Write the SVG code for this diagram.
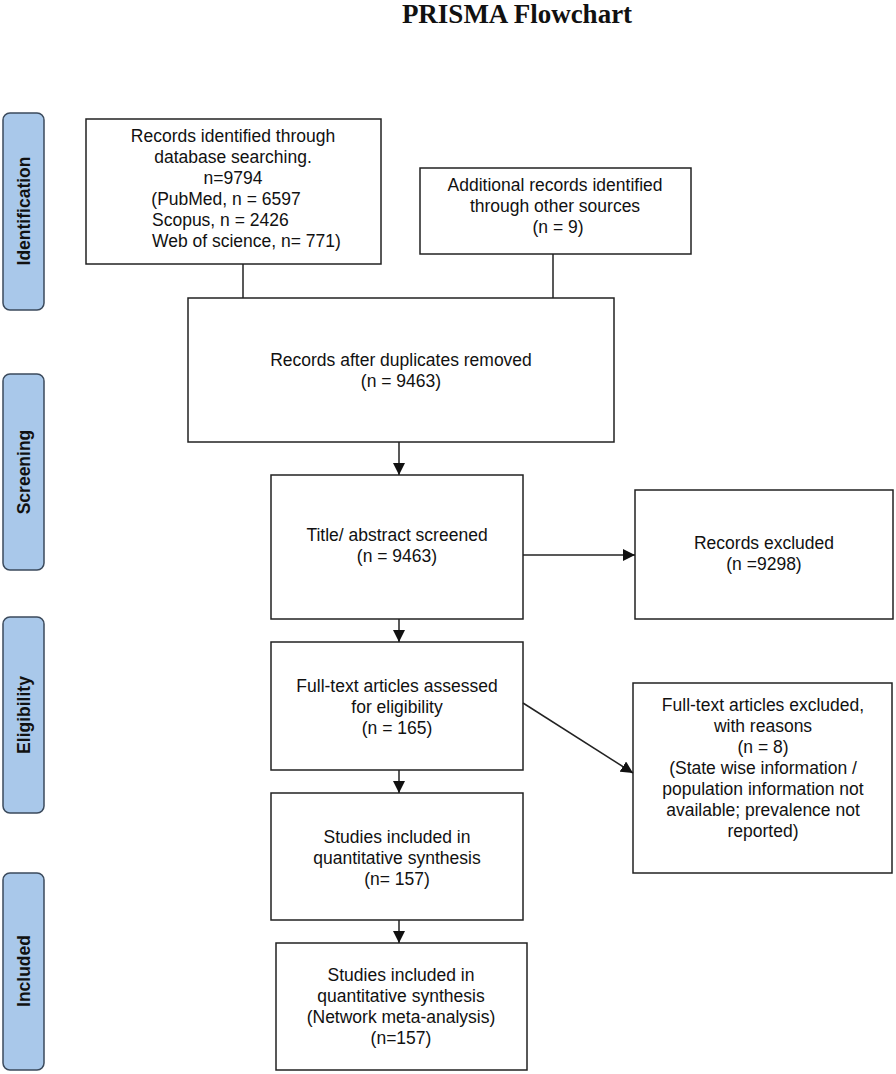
<svg xmlns="http://www.w3.org/2000/svg" width="896" height="1074" viewBox="0 0 896 1074">
<defs>
<style>
.b{fill:#fff;stroke:#222;stroke-width:1.5}
.s{fill:#a9c8ea;stroke:#3b4a5c;stroke-width:1.5}
.t{font-family:"Liberation Sans",Arial,sans-serif;font-size:17.5px;fill:#111;text-anchor:middle}
.l{font-family:"Liberation Sans",Arial,sans-serif;font-size:17.5px;fill:#111}
.st{font-family:"Liberation Sans",Arial,sans-serif;font-size:17.5px;font-weight:bold;fill:#111;text-anchor:middle}
.c{stroke:#222;stroke-width:1.5;fill:none}
</style>
<marker id="a" viewBox="0 0 10 10" refX="10" refY="5" markerWidth="8" markerHeight="8" orient="auto"><path d="M0,0 L10,5 L0,10 z" fill="#111"/></marker>
</defs>
<rect width="896" height="1074" fill="#fff"/>
<text x="517" y="23" font-family="Liberation Serif,serif" font-size="27" font-weight="bold" text-anchor="middle" fill="#111">PRISMA Flowchart</text>
<g id="side-identification"><rect class="s" x="3" y="113" width="41" height="197" rx="7"/><text class="st" transform="translate(30,211) rotate(-90)">Identification</text></g>
<g id="side-screening"><rect class="s" x="3" y="374" width="41" height="196" rx="7"/><text class="st" transform="translate(30,472) rotate(-90)">Screening</text></g>
<g id="side-eligibility"><rect class="s" x="3" y="617" width="41" height="196" rx="7"/><text class="st" transform="translate(30,715) rotate(-90)">Eligibility</text></g>
<g id="side-included"><rect class="s" x="3" y="873" width="41" height="197" rx="7"/><text class="st" transform="translate(30,971) rotate(-90)">Included</text></g>
<g id="n1"><rect class="b" x="86" y="119" width="295" height="145"/>
<text class="t" x="233" y="142">Records identified through</text>
<text class="t" x="233" y="163">database searching.</text>
<text class="t" x="233" y="184">n=9794</text>
<text class="t" x="226" y="205">(PubMed, n = 6597</text>
<text class="l" x="152" y="226">Scopus, n = 2426</text>
<text class="l" x="152" y="247"> Web of science, n= 771)</text></g>
<g id="n2"><rect class="b" x="420" y="168" width="271" height="86"/>
<text class="t" x="555" y="191">Additional records identified</text>
<text class="t" x="555" y="212">through other sources</text>
<text class="t" x="558" y="233">(n = 9)</text></g>
<g id="n3"><rect class="b" x="188" y="298" width="426" height="144"/>
<text class="t" x="401" y="366">Records after duplicates removed</text>
<text class="t" x="401" y="387">(n = 9463)</text></g>
<g id="n4"><rect class="b" x="271" y="475" width="252" height="144"/>
<text class="t" x="397" y="541">Title/ abstract screened</text>
<text class="t" x="397" y="562">(n = 9463)</text></g>
<g id="n5"><rect class="b" x="635" y="490" width="258" height="129"/>
<text class="t" x="764" y="549">Records excluded</text>
<text class="t" x="764" y="570">(n =9298)</text></g>
<g id="n6"><rect class="b" x="271" y="642" width="252" height="128"/>
<text class="t" x="397" y="692">Full-text articles assessed</text>
<text class="t" x="397" y="713">for eligibility</text>
<text class="t" x="397" y="734">(n = 165)</text></g>
<g id="n7"><rect class="b" x="633" y="683" width="259" height="190"/>
<text class="t" x="763" y="711">Full-text articles excluded,</text>
<text class="t" x="763" y="732">with reasons</text>
<text class="t" x="763" y="753">(n = 8)</text>
<text class="t" x="763" y="774">(State wise information /</text>
<text class="t" x="763" y="795">population information not</text>
<text class="t" x="763" y="816">available; prevalence not</text>
<text class="t" x="763" y="837">reported)</text></g>
<g id="n8"><rect class="b" x="271" y="793" width="252" height="127"/>
<text class="t" x="397" y="843">Studies included in</text>
<text class="t" x="397" y="864">quantitative synthesis</text>
<text class="t" x="397" y="885">(n= 157)</text></g>
<g id="n9"><rect class="b" x="276" y="943" width="251" height="127"/>
<text class="t" x="401" y="981">Studies included in</text>
<text class="t" x="401" y="1002">quantitative synthesis</text>
<text class="t" x="401" y="1023">(Network meta-analysis)</text>
<text class="t" x="401" y="1044">(n=157)</text></g>
<g id="connectors">
<path class="c" d="M243,264 V298"/>
<path class="c" d="M553,254 V298"/>
<path class="c" d="M399,442 V475" marker-end="url(#a)"/>
<path class="c" d="M523,555 H635" marker-end="url(#a)"/>
<path class="c" d="M399,619 V642" marker-end="url(#a)"/>
<path class="c" d="M523,703 L633,773" marker-end="url(#a)"/>
<path class="c" d="M399,770 V793" marker-end="url(#a)"/>
<path class="c" d="M399,920 V943" marker-end="url(#a)"/>
</g>
</svg>
